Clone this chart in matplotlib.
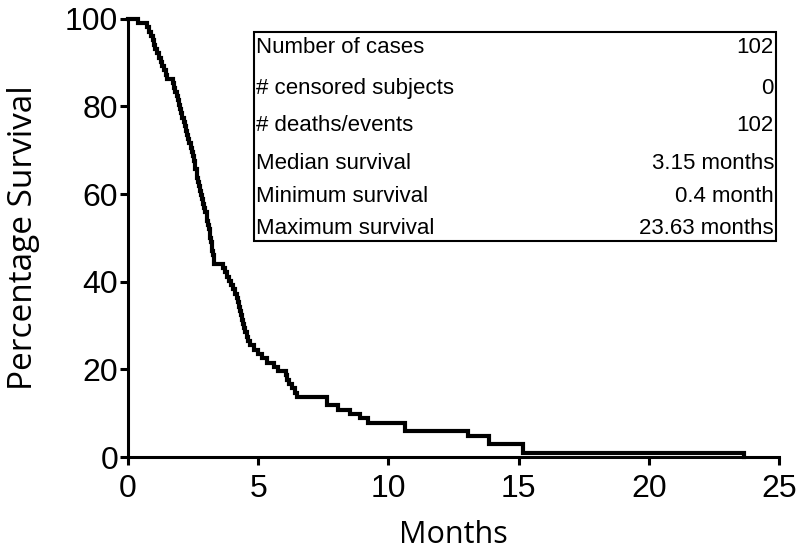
import numpy as np
import matplotlib
matplotlib.use('Agg')
import matplotlib.pyplot as plt
from matplotlib.patches import Rectangle

### DATA

# event times (months), 102 deaths, no censoring
event_times = [0.40,
               0.72, 0.80, 0.88, 0.96,
               1.00, 1.05, 1.10,
               1.20, 1.25, 1.30,
               1.38, 1.45, 1.50,
               1.73, 1.78, 1.82, 1.87, 1.91, 1.95, 2.00,
               2.05, 2.09, 2.14, 2.18, 2.23, 2.27, 2.32, 2.36, 2.41, 2.45,
               2.48, 2.52, 2.56, 2.59, 2.63, 2.66, 2.70, 2.73, 2.77,
               2.81, 2.85, 2.89, 2.93, 2.97, 3.02,
               3.05, 3.08, 3.10, 3.13, 3.15,
               3.18, 3.21, 3.24, 3.27,
               3.30, 3.32,
               3.65, 3.72, 3.80, 3.87, 3.95, 4.02, 4.10, 4.17,
               4.22, 4.26, 4.30, 4.33, 4.37,
               4.42, 4.46, 4.50, 4.55, 4.60,
               4.70, 4.85, 5.00, 5.15, 5.33,
               5.60, 5.75,
               6.05, 6.10, 6.20, 6.30, 6.40, 6.48,
               7.63, 7.63,
               8.06, 8.52, 8.90, 9.20,
               10.64, 10.64,
               13.06,
               13.85, 13.85,
               15.15, 15.15,
               23.63]

table_labels = ['Number of cases', '# censored subjects', '# deaths/events',
                'Median survival', 'Minimum survival', 'Maximum survival']
table_values = ['102', '0', '102', '3.15 months', '0.4 month', '23.63 months']

n_cases = len(event_times)
t = np.concatenate([[0.0], np.sort(event_times)])
surv = 100.0 * (n_cases - np.arange(n_cases + 1)) / n_cases

### PLOT

fig = plt.figure(figsize=(8.0, 5.54), dpi=100)
ax = fig.add_axes([0.16, 0.175, 0.814, 0.791])

ax.step(t, surv, where='post', color='black', lw=3.0, solid_joinstyle='miter', clip_on=False, zorder=3)

ax.set_xlim(0, 25)
ax.set_ylim(0, 100)
ax.set_xticks(np.arange(0, 26, 5))
ax.set_yticks(np.arange(0, 101, 20))

for s in ['top', 'right']:
    ax.spines[s].set_visible(False)
for s in ['left', 'bottom']:
    ax.spines[s].set_linewidth(2.2)
ax.tick_params(direction='out', length=6, width=2.2, labelsize=23)
ax.tick_params(axis='x', pad=6)
ax.tick_params(axis='y', pad=1)
for lab in ax.get_xticklabels() + ax.get_yticklabels():
    lab.set_family('Liberation Sans')

ax.set_xlabel('Months', fontsize=22, family='Open Sans', labelpad=12)
ax.set_ylabel('Percentage Survival', fontsize=24, family='Open Sans', labelpad=18)

# summary box
ax.add_patch(Rectangle((0.1935, 0.493), 0.8015, 0.477, transform=ax.transAxes,
                       fill=False, lw=1.5, ec='black', zorder=4))
row_y = [0.934, 0.842, 0.756, 0.671, 0.594, 0.521]
for lab, val, y in zip(table_labels, table_values, row_y):
    ax.text(0.197, y, lab, transform=ax.transAxes, ha='left', va='center',
            fontsize=16, family='Liberation Sans')
    ax.text(0.992, y, val, transform=ax.transAxes, ha='right', va='center',
            fontsize=16, family='Liberation Sans')

fig.savefig('out.png', dpi=100)
